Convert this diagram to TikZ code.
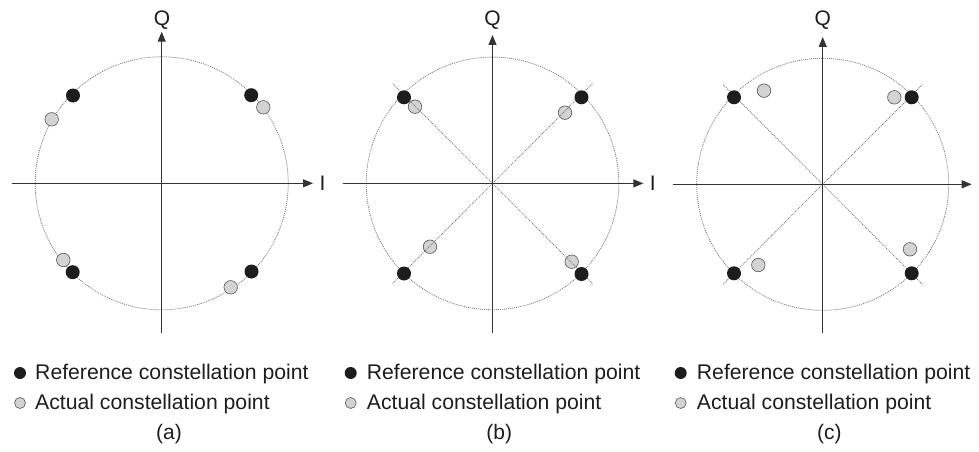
\documentclass[tikz,border=0pt]{standalone}
\usepackage{fontspec}
\setmainfont{Liberation Sans}
\usetikzlibrary{arrows.meta}
\definecolor{axisc}{HTML}{333333}
\definecolor{dotc}{HTML}{7A7A7A}
\definecolor{refc}{HTML}{1E1C1D}
\definecolor{actc}{HTML}{D2D3D4}
\definecolor{actline}{HTML}{555555}
\begin{document}
\begin{tikzpicture}[x=1pt,y=-1pt,
  axis/.style={draw=axisc,line width=1.1pt,-{Triangle[length=10pt,width=8pt]}},
  ring/.style={draw=dotc,line width=0.8pt,dash pattern=on 1pt off 1pt},
  diag/.style={draw=dotc,line width=0.8pt,dash pattern=on 1pt off 1pt},
  refpt/.style={circle,fill=refc,inner sep=0pt,minimum size=14pt},
  actpt/.style={circle,fill=actc,draw=actline,line width=0.6pt,inner sep=0pt,minimum size=13.5pt},
  refleg/.style={circle,fill=refc,inner sep=0pt,minimum size=12pt},
  actleg/.style={circle,fill=actc,draw=actline,line width=0.6pt,inner sep=0pt,minimum size=11pt},
  txt/.style={inner sep=0pt,font=\fontsize{21.2}{25}\selectfont,text=refc},
  lbl/.style={inner sep=0pt,font=\fontsize{21}{25}\selectfont,text=refc,anchor=base}]
\useasboundingbox (0,0) rectangle (979,452);
% ---------- panel (a) ----------
\coordinate (Oa) at (161.7,183.3);
\coordinate (aL) at (11.7,183.3);
\coordinate (aR) at (313,183.3);
\coordinate (aB) at (161.7,333);
\coordinate (aT) at (161.7,31.7);
\draw[ring] (Oa) circle[radius=126.5];
\draw[axis] (aL) -- (aR);
\draw[axis] (aB) -- (aT);
\node[lbl] (aQ) at (162,26) {Q};
\node[lbl] (aI) at (322.5,190) {I};
\node[actpt] (aA1) at (51.7,119.3) {};
\node[actpt] (aA2) at (263.3,107.3) {};
\node[actpt] (aA3) at (63.3,260) {};
\node[actpt] (aA4) at (230.7,287.3) {};
\node[refpt] (aR1) at (73,95.5) {};
\node[refpt] (aR2) at (251.2,95.2) {};
\node[refpt] (aR3) at (72.7,272.2) {};
\node[refpt] (aR4) at (251.5,271.5) {};
% ---------- panel (b) ----------
\coordinate (Ob) at (492.5,183.4);
\coordinate (bL) at (342.7,183.4);
\coordinate (bR) at (643.3,183.4);
\coordinate (bB) at (492.5,333);
\coordinate (bT) at (492.5,35);
\coordinate (bD1) at (392,83);
\coordinate (bD2) at (593,83);
\coordinate (bD3) at (392,284);
\coordinate (bD4) at (593,284);
\draw[ring] (Ob) circle[radius=126.3];
\node[actpt] (bA1) at (415,106.7) {};
\node[actpt] (bA2) at (565,112.7) {};
\node[actpt] (bA3) at (430,246.7) {};
\node[actpt] (bA4) at (571.7,261.7) {};
\draw[diag] (Ob) -- (bD1);
\draw[diag] (Ob) -- (bD2);
\draw[diag] (Ob) -- (bD3);
\draw[diag] (Ob) -- (bD4);
\draw[axis] (bL) -- (bR);
\draw[axis] (bB) -- (bT);
\node[lbl] (bQ) at (492.5,26) {Q};
\node[lbl] (bI) at (652.7,190.2) {I};
\node[refpt] (bR1) at (404,97.3) {};
\node[refpt] (bR2) at (581.5,97.3) {};
\node[refpt] (bR3) at (404,273.5) {};
\node[refpt] (bR4) at (581.5,274) {};
% ---------- panel (c) ----------
\coordinate (Oc) at (822.7,184.3);
\coordinate (cL) at (673.3,184.3);
\coordinate (cR) at (971.7,184.3);
\coordinate (cB) at (822.7,333);
\coordinate (cT) at (822.7,37);
\coordinate (cD1) at (722.5,84);
\coordinate (cD2) at (923,84);
\coordinate (cD3) at (722.5,285);
\coordinate (cD4) at (923,285);
\draw[ring] (Oc) circle[radius=126];
\draw[diag] (Oc) -- (cD1);
\draw[diag] (Oc) -- (cD2);
\draw[diag] (Oc) -- (cD3);
\draw[diag] (Oc) -- (cD4);
\draw[axis] (cL) -- (cR);
\draw[axis] (cB) -- (cT);
\node[lbl] (cQ) at (822.7,26) {Q};
\node[actpt] (cA1) at (764,90.7) {};
\node[actpt] (cA2) at (894.3,97.3) {};
\node[actpt] (cA3) at (758.3,265) {};
\node[actpt] (cA4) at (910,249.3) {};
\node[refpt] (cR1) at (734,97.3) {};
\node[refpt] (cR2) at (911.7,97.3) {};
\node[refpt] (cR3) at (734,273.3) {};
\node[refpt] (cR4) at (911.7,273.3) {};
% ---------- legends ----------
\node[refleg] (aLr) at (20,373) {};
\node[actleg] (aLa) at (20,403) {};
\node[txt,anchor=base west] (aTr) at (35,379.5) {Reference constellation point};
\node[txt,anchor=base west] (aTa) at (35,409.5) {Actual constellation point};
\node[lbl] (aCap) at (169,439.5) {(a)};
\node[refleg] (bLr) at (350.7,373) {};
\node[actleg] (bLa) at (350.7,403) {};
\node[txt,anchor=base west] (bTr) at (366.7,379.5) {Reference constellation point};
\node[txt,anchor=base west] (bTa) at (366.7,409.5) {Actual constellation point};
\node[lbl] (bCap) at (499.3,439.5) {(b)};
\node[refleg] (cLr) at (680.7,373) {};
\node[actleg] (cLa) at (680.7,403) {};
\node[txt,anchor=base west] (cTr) at (696.7,379.5) {Reference constellation point};
\node[txt,anchor=base west] (cTa) at (696.7,409.5) {Actual constellation point};
\node[lbl] (cCap) at (829.3,439.5) {(c)};
\end{tikzpicture}
\end{document}
